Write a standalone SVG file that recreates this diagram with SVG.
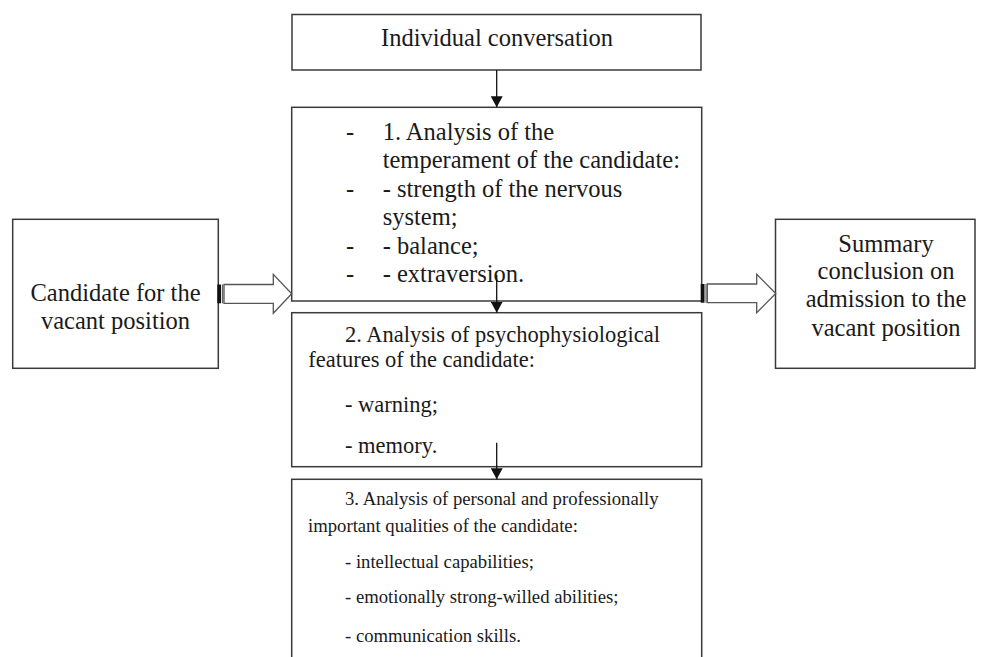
<svg xmlns="http://www.w3.org/2000/svg" width="986" height="657" viewBox="0 0 986 657">
  <defs>
    <style>
      .box { fill: #ffffff; stroke: #3a3a3a; stroke-width: 1.5; }
      .t { font-family: "Liberation Serif", "Times New Roman", serif; fill: #1a1a1a; }
      .f24 { font-size: 24.5px; }
      .f22 { font-size: 22.5px; }
      .f18 { font-size: 18.7px; }
      .mid { text-anchor: middle; }
      .conn { stroke: #111111; stroke-width: 1.3; fill: none; }
      .block { fill: #ffffff; stroke: #555555; stroke-width: 1.3; }
      .bar { fill: #111111; }
      .barline { stroke: #666666; stroke-width: 1.2; }
    </style>
    <marker id="ah" viewBox="0 0 11 12" refX="11" refY="6" markerWidth="11" markerHeight="12" markerUnits="userSpaceOnUse" orient="auto">
      <path d="M0,0 L11,6 L0,12 Z" fill="#111111"/>
    </marker>
  </defs>

  <rect x="0" y="0" width="986" height="657" fill="#ffffff"/>

  <g id="node-individual">
    <rect class="box" x="292" y="14.5" width="409" height="55.5"/>
    <text class="t f24 mid" x="497" y="45.7">Individual conversation</text>
  </g>

  <g id="node-candidate">
    <rect class="box" x="12.7" y="219.3" width="205.6" height="149"/>
    <text class="t f24 mid" x="115.5" y="300.7">Candidate for the</text>
    <text class="t f24 mid" x="115.5" y="328.5">vacant position</text>
  </g>

  <g id="node-summary">
    <rect class="box" x="775.5" y="219.3" width="199.5" height="149"/>
    <text class="t f24 mid" x="886" y="251.5">Summary</text>
    <text class="t f24 mid" x="886" y="279">conclusion on</text>
    <text class="t f24 mid" x="886" y="307">admission to the</text>
    <text class="t f24 mid" x="886" y="335.5">vacant position</text>
  </g>

  <g id="node-temperament">
    <rect class="box" x="291.7" y="107.3" width="410" height="193.7"/>
    <g class="t f24">
      <text x="346" y="139.5">-</text>
      <text x="382.7" y="139.5">1. Analysis of the</text>
      <text x="382.7" y="168">temperament of the candidate:</text>
      <text x="346" y="196.5">-</text>
      <text x="382.7" y="196.5">- strength of the nervous</text>
      <text x="382.7" y="225">system;</text>
      <text x="346" y="253.5">-</text>
      <text x="382.7" y="253.5">- balance;</text>
      <text x="346" y="282">-</text>
      <text x="382.7" y="282">- extraversion.</text>
    </g>
  </g>

  <g id="node-psychophysiological">
    <rect class="box" x="291.7" y="312.7" width="410" height="154"/>
    <g class="t f22">
      <text x="345" y="341.7">2. Analysis of psychophysiological</text>
      <text x="308.3" y="367.3">features of the candidate:</text>
      <text x="345" y="411.7">- warning;</text>
      <text x="345" y="453.3">- memory.</text>
    </g>
  </g>

  <g id="node-qualities">
    <rect class="box" x="291.7" y="479.3" width="410" height="200"/>
    <g class="t f18">
      <text x="345" y="505">3. Analysis of personal and professionally</text>
      <text x="308" y="531.7">important qualities of the candidate:</text>
      <text x="345" y="568.3">- intellectual capabilities;</text>
      <text x="345" y="603.3">- emotionally strong-willed abilities;</text>
      <text x="345" y="641.5">- communication skills.</text>
    </g>
  </g>

  <g id="connectors">
    <line class="conn" x1="496.7" y1="70" x2="496.7" y2="107.3" marker-end="url(#ah)"/>
    <line class="conn" x1="496.7" y1="275" x2="496.7" y2="312.7" marker-end="url(#ah)"/>
    <line class="conn" x1="496.7" y1="442.7" x2="496.7" y2="479.3" marker-end="url(#ah)"/>

    <g id="block-arrow-left">
      <rect class="bar" x="217.3" y="284.5" width="3.8" height="18.8"/>
      <line class="barline" x1="222.6" y1="284.5" x2="222.6" y2="303.3"/>
      <polygon class="block" points="224,284.5 273.3,284.5 273.3,274.3 291.7,293.8 273.3,313.3 273.3,303.3 224,303.3"/>
    </g>
    <g id="block-arrow-right">
      <rect class="bar" x="700.7" y="284" width="3.8" height="18.7"/>
      <line class="barline" x1="706" y1="284" x2="706" y2="302.7"/>
      <polygon class="block" points="707.3,284 756.7,284 756.7,274.3 775.7,293.5 756.7,312.7 756.7,302.7 707.3,302.7"/>
    </g>
  </g>
</svg>
